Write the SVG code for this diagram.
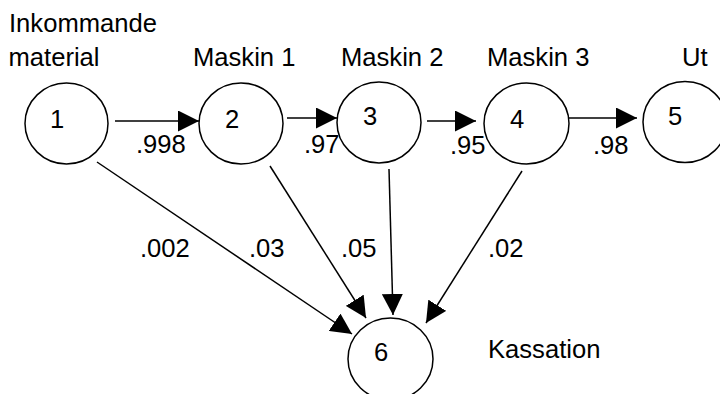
<svg xmlns="http://www.w3.org/2000/svg" width="720" height="394" viewBox="0 0 720 394">
<style>
text{font-family:"Liberation Sans",Arial,sans-serif;font-size:25.6px;fill:#000}
.n{fill:#fff;stroke:#000;stroke-width:1.5}
.c{stroke:#000;stroke-width:1.5;fill:none;marker-end:url(#ah)}
</style>
<defs>
<marker id="ah" markerUnits="userSpaceOnUse" markerWidth="21" markerHeight="21" refX="21" refY="10.5" orient="auto">
<path d="M0,0 L21,10.5 L0,21 z" fill="#000"/>
</marker>
</defs>
<rect width="720" height="394" fill="#fff"/>
<g id="headers">
<text x="9" y="32">Inkommande</text>
<text x="8.5" y="66">material</text>
<text x="193" y="66">Maskin 1</text>
<text x="341" y="66">Maskin 2</text>
<text x="487" y="66">Maskin 3</text>
<text x="682" y="66">Ut</text>
<text x="488" y="358">Kassation</text>
</g>
<g id="connectors">
<line class="c" x1="115" y1="121" x2="199" y2="121"/>
<line class="c" x1="287" y1="118" x2="337" y2="118"/>
<line class="c" x1="427" y1="121" x2="476" y2="121"/>
<line class="c" x1="569" y1="118" x2="637" y2="118"/>
<line class="c" x1="97" y1="162" x2="352" y2="334"/>
<line class="c" x1="270" y1="166" x2="366" y2="318"/>
<line class="c" x1="389" y1="169" x2="393" y2="315"/>
<line class="c" x1="522" y1="171" x2="426" y2="323"/>
<text x="136" y="153">.998</text>
<text x="304" y="153">.97</text>
<text x="450" y="154">.95</text>
<text x="593" y="154">.98</text>
<text x="140" y="257">.002</text>
<text x="249" y="257">.03</text>
<text x="341" y="257">.05</text>
<text x="488" y="257">.02</text>
</g>
<g id="node1"><ellipse class="n" cx="66.5" cy="123.5" rx="41.5" ry="40.5"/><text x="50" y="128">1</text></g>
<g id="node2"><ellipse class="n" cx="241" cy="123.5" rx="42" ry="40.5"/><text x="225" y="128">2</text></g>
<g id="node3"><ellipse class="n" cx="379" cy="122.5" rx="42" ry="40.5"/><text x="363" y="125">3</text></g>
<g id="node4"><ellipse class="n" cx="526.5" cy="123.5" rx="42.5" ry="40.5"/><text x="510" y="128">4</text></g>
<g id="node5"><ellipse class="n" cx="685" cy="122" rx="42" ry="40.5"/><text x="668" y="125">5</text></g>
<g id="node6"><ellipse class="n" cx="390.5" cy="359" rx="42.5" ry="41"/><text x="374" y="361">6</text></g>
</svg>
